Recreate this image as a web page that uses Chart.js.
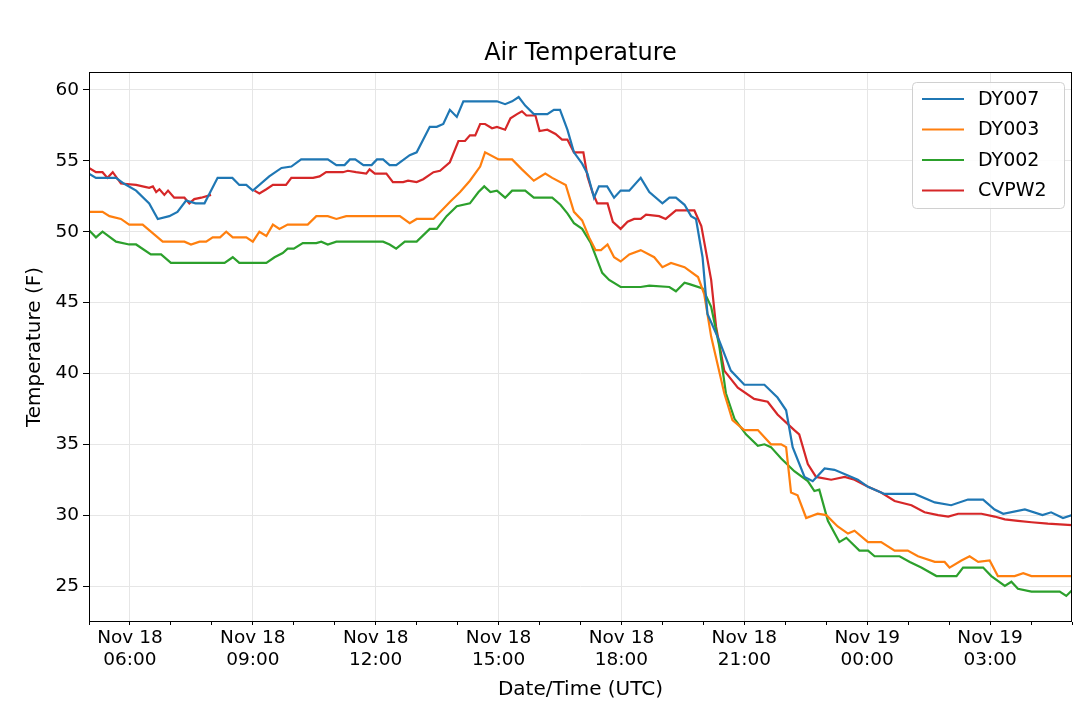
<!DOCTYPE html>
<html>
<head>
<meta charset="utf-8">
<script src="https://cdn.jsdelivr.net/npm/chart.js@4"></script>
<style>
  body { margin: 0; background: #fff; }
  #wrap { width: 1080px; height: 717px; }
</style>
</head>
<body>
<div id="wrap"><canvas id="myChart"></canvas></div>
<script>
// hours after Nov 18 05:00 UTC, temperature in F
const dy007Hours = [0,0.17,0.66,0.85,1.15,1.47,1.68,1.96,2.16,2.37,2.6,2.82,3.14,3.5,3.67,3.84,4.0,4.4,4.7,4.94,5.18,5.83,6.04,6.24,6.37,6.5,6.7,6.9,7.03,7.18,7.34,7.5,7.83,8.0,8.32,8.49,8.65,8.81,8.98,9.14,9.96,10.16,10.33,10.49,10.65,10.86,11.19,11.35,11.5,11.68,11.84,12.04,12.17,12.33,12.45,12.65,12.82,12.98,13.19,13.47,13.68,14.0,14.17,14.33,14.54,14.7,14.82,14.98,15.1,15.39,15.67,16.0,16.49,16.81,17.02,17.18,17.47,17.67,17.96,18.2,18.53,18.77,19.02,19.42,20.16,20.65,21.05,21.46,21.83,22.11,22.32,22.85,23.28,23.49,23.78,24.0];
const dy007Temps = [54.1,53.8,53.8,53.4,52.9,52.0,50.9,51.1,51.4,52.2,52.0,52.0,53.8,53.8,53.3,53.3,52.9,53.9,54.5,54.6,55.1,55.1,54.7,54.7,55.1,55.1,54.7,54.7,55.1,55.1,54.7,54.7,55.4,55.6,57.4,57.4,57.6,58.6,58.1,59.2,59.2,59.0,59.2,59.5,58.9,58.3,58.3,58.6,58.6,57.2,55.6,54.8,54.1,52.4,53.2,53.2,52.4,52.9,52.9,53.8,52.8,52.0,52.4,52.4,51.9,51.1,50.9,48.2,44.2,42.3,40.2,39.2,39.2,38.3,37.4,34.8,32.7,32.4,33.3,33.2,32.8,32.5,32.0,31.5,31.5,30.9,30.7,31.1,31.1,30.4,30.1,30.4,30.0,30.2,29.8,30.0];

const dy003Hours = [0,0.33,0.5,0.78,0.98,1.31,1.8,2.33,2.49,2.7,2.86,3.02,3.2,3.35,3.51,3.84,4.0,4.16,4.33,4.49,4.65,4.85,5.34,5.55,5.83,6.04,6.28,7.59,7.83,8.0,8.41,8.81,9.06,9.3,9.55,9.67,10.0,10.33,10.57,10.86,11.14,11.31,11.64,11.84,12.04,12.21,12.37,12.5,12.66,12.82,12.98,13.19,13.47,13.8,14.0,14.21,14.54,14.87,15.02,15.19,15.51,15.71,16.0,16.33,16.65,16.9,17.02,17.14,17.3,17.51,17.79,18.0,18.28,18.53,18.69,19.02,19.34,19.67,19.99,20.24,20.65,20.89,21.01,21.3,21.5,21.71,21.99,22.19,22.6,22.81,23.01,24.0];
const dy003Temps = [51.4,51.4,51.1,50.9,50.5,50.5,49.3,49.3,49.1,49.3,49.3,49.6,49.6,50.0,49.6,49.6,49.3,50.0,49.7,50.5,50.2,50.5,50.5,51.1,51.1,50.9,51.1,51.1,50.6,50.9,50.9,52.1,52.8,53.6,54.6,55.6,55.1,55.1,54.4,53.6,54.1,53.8,53.3,51.4,50.8,49.6,48.7,48.7,49.1,48.2,47.9,48.4,48.7,48.2,47.5,47.8,47.5,46.8,45.6,42.6,38.6,36.7,36.0,36.0,35.0,35.0,34.8,31.6,31.4,29.8,30.1,30.0,29.2,28.7,28.9,28.1,28.1,27.5,27.5,27.1,26.7,26.7,26.3,26.8,27.1,26.7,26.8,25.7,25.7,25.9,25.7,25.7];

const dy002Hours = [0,0.17,0.33,0.66,0.98,1.15,1.51,1.76,2.0,3.31,3.51,3.67,4.33,4.53,4.73,4.85,5.0,5.22,5.55,5.67,5.83,6.04,7.18,7.34,7.5,7.71,8.0,8.32,8.49,8.73,8.98,9.3,9.51,9.65,9.8,9.96,10.16,10.33,10.65,10.86,11.31,11.51,11.68,11.84,12.04,12.25,12.41,12.53,12.7,12.98,13.47,13.68,14.17,14.33,14.54,14.66,14.98,15.19,15.39,15.55,15.76,16.04,16.33,16.49,16.65,16.9,17.22,17.55,17.71,17.83,18.04,18.32,18.49,18.81,19.02,19.18,19.79,20.04,20.32,20.69,21.18,21.34,21.83,22.03,22.36,22.52,22.68,23.01,23.7,23.86,24.0];
const dy002Temps = [50.1,49.6,50.0,49.3,49.1,49.1,48.4,48.4,47.8,47.8,48.2,47.8,47.8,48.2,48.5,48.8,48.8,49.2,49.2,49.3,49.1,49.3,49.3,49.1,48.8,49.3,49.3,50.2,50.2,51.1,51.8,52.0,52.8,53.2,52.8,52.9,52.4,52.9,52.9,52.4,52.4,51.9,51.3,50.6,50.2,49.2,48.0,47.1,46.6,46.1,46.1,46.2,46.1,45.8,46.4,46.3,46.0,44.7,41.9,38.6,36.8,35.7,34.9,35.0,34.8,34.0,33.1,32.4,31.7,31.8,29.6,28.1,28.4,27.5,27.5,27.1,27.1,26.7,26.3,25.7,25.7,26.3,26.3,25.7,25.0,25.3,24.8,24.6,24.6,24.3,24.7];

// CVPW2 has no data between ~08:00 and ~09:00
const cvpw2Hours = [0,0.17,0.33,0.45,0.58,0.78,1.15,1.31,1.47,1.56,1.64,1.72,1.84,1.93,2.08,2.33,2.45,2.57,2.74,2.98,3.5,4.04,4.16,4.33,4.49,4.81,4.94,5.47,5.63,5.79,6.2,6.32,6.52,6.77,6.85,6.98,7.26,7.42,7.67,7.79,8.0,8.16,8.41,8.57,8.81,9.02,9.18,9.3,9.43,9.55,9.67,9.84,9.96,10.16,10.29,10.45,10.57,10.68,10.9,11.0,11.19,11.39,11.55,11.68,11.84,12.07,12.17,12.29,12.41,12.66,12.79,12.98,13.15,13.31,13.47,13.6,13.92,14.08,14.33,14.78,14.95,15.19,15.31,15.51,15.84,16.24,16.57,16.81,17.22,17.34,17.55,17.75,18.12,18.45,18.69,19.02,19.34,19.67,20.08,20.4,20.73,20.98,21.22,21.79,22.11,22.36,22.68,23.01,23.41,24.0];
const cvpw2Temps = [54.5,54.2,54.2,53.8,54.2,53.4,53.3,53.2,53.1,53.2,52.8,53.0,52.6,52.9,52.4,52.4,52.0,52.3,52.4,52.6,null,52.9,52.7,53.0,53.3,53.3,53.8,53.8,53.9,54.2,54.2,54.3,54.2,54.1,54.4,54.1,54.1,53.5,53.5,53.6,53.5,53.7,54.2,54.3,54.9,56.4,56.4,56.8,56.8,57.6,57.6,57.3,57.4,57.2,58.0,58.3,58.5,58.2,58.2,57.1,57.2,56.9,56.5,56.5,55.6,55.6,53.9,52.8,52.0,52.0,50.7,50.2,50.7,50.9,50.9,51.2,51.1,50.9,51.5,51.5,50.4,46.6,43.3,40.2,39.0,38.2,38.0,37.1,36.0,35.7,33.6,32.7,32.5,32.7,32.5,32.0,31.6,31.0,30.7,30.2,30.0,29.9,30.1,30.1,29.9,29.7,29.6,29.5,29.4,29.3];

const seriesNames = ['DY007', 'DY003', 'DY002', 'CVPW2'];
const seriesColors = ['#1f77b4', '#ff7f0e', '#2ca02c', '#d62728'];
const tickLabels = {1: ['Nov 18', '06:00'], 4: ['Nov 18', '09:00'], 7: ['Nov 18', '12:00'], 10: ['Nov 18', '15:00'],
  13: ['Nov 18', '18:00'], 16: ['Nov 18', '21:00'], 19: ['Nov 19', '00:00'], 22: ['Nov 19', '03:00']};
const yTicks = [25, 30, 35, 40, 45, 50, 55, 60];

function toPoints(hours, temps){
  return hours.map((h, i) => ({x: h, y: temps[i]}));
}

const allSeries = [[dy007Hours, dy007Temps], [dy003Hours, dy003Temps], [dy002Hours, dy002Temps], [cvpw2Hours, cvpw2Temps]];
const datasets = allSeries.map((s, i) => ({
  label: seriesNames[i],
  data: toPoints(s[0], s[1]),
  borderColor: seriesColors[i],
  backgroundColor: seriesColors[i],
  borderWidth: 2.2,
  pointRadius: 0,
  tension: 0,
  spanGaps: false
}));

const FONT = 'DejaVu Sans';

// title, axis titles, frame and legend drawn by hand to match the matplotlib look
const decorations = {
  id: 'decorations',
  afterDraw(chart){
    const c = chart.ctx;
    const a = chart.chartArea;
    c.save();
    c.strokeStyle = '#000';
    c.lineWidth = 1;
    c.strokeRect(a.left + 0.5, a.top + 0.5, a.right - a.left - 1, a.bottom - a.top - 1);

    c.fillStyle = '#000';
    c.textAlign = 'center';
    c.textBaseline = 'middle';
    c.font = '24px ' + FONT;
    c.fillText('Air Temperature', (a.left + a.right) / 2, 54);
    c.font = '20px ' + FONT;
    c.fillText('Date/Time (UTC)', (a.left + a.right) / 2, 690);
    c.translate(35, (a.top + a.bottom) / 2);
    c.rotate(-Math.PI / 2);
    c.fillText('Temperature (F)', 0, 0);
    c.restore();

    // legend box
    c.save();
    const bx = 912, by = 82, bw = 152, bh = 126;
    c.fillStyle = 'rgba(255,255,255,0.85)';
    c.strokeStyle = '#d0d0d0';
    c.lineWidth = 1;
    c.beginPath();
    c.roundRect(bx + 0.5, by + 0.5, bw, bh, 4);
    c.fill();
    c.stroke();
    c.font = '19px ' + FONT;
    c.textAlign = 'left';
    c.textBaseline = 'middle';
    chart.data.datasets.forEach((ds, i) => {
      const yy = by + 17 + i * 30.5;
      c.strokeStyle = ds.borderColor;
      c.lineWidth = 2.2;
      c.beginPath();
      c.moveTo(bx + 10, yy);
      c.lineTo(bx + 52, yy);
      c.stroke();
      c.fillStyle = '#000';
      c.fillText(ds.label, bx + 66, yy + 1);
    });
    c.restore();
  }
};

new Chart(document.getElementById('myChart'), {
  type: 'line',
  data: { datasets: datasets },
  options: {
    responsive: true,
    maintainAspectRatio: false,
    animation: false,
    layout: { padding: { top: 72, right: 8, left: 0, bottom: 0 } },
    plugins: { legend: { display: false }, tooltip: { enabled: false }, title: { display: false } },
    scales: {
      x: {
        type: 'linear',
        min: 0,
        max: 24,
        afterBuildTicks: scale => {
          scale.ticks = [];
          for(let h = 0; h <= 24; h++) scale.ticks.push({value: h});
        },
        afterFit: scale => { scale.height = 95; },
        grid: {
          color: ctx => (tickLabels[ctx.tick && ctx.tick.value] ? '#e6e6e6' : 'rgba(0,0,0,0)'),
          tickColor: '#000',
          tickLength: ctx => (tickLabels[ctx.tick && ctx.tick.value] ? 6 : 3),
          drawOnChartArea: true
        },
        border: { display: false },
        ticks: {
          autoSkip: false,
          maxRotation: 0,
          color: '#000',
          font: { family: FONT, size: 18.5 },
          padding: 2,
          callback: v => tickLabels[v] || ''
        }
      },
      y: {
        min: 22.46,
        max: 61.27,
        afterBuildTicks: scale => { scale.ticks = yTicks.map(v => ({value: v})); },
        afterFit: scale => { scale.width = 89; },
        grid: { color: '#e6e6e6', tickColor: '#000', tickLength: 6 },
        border: { display: false },
        ticks: { color: '#000', font: { family: FONT, size: 18.5 }, padding: 4 }
      }
    }
  },
  plugins: [decorations]
});
</script>
</body>
</html>
